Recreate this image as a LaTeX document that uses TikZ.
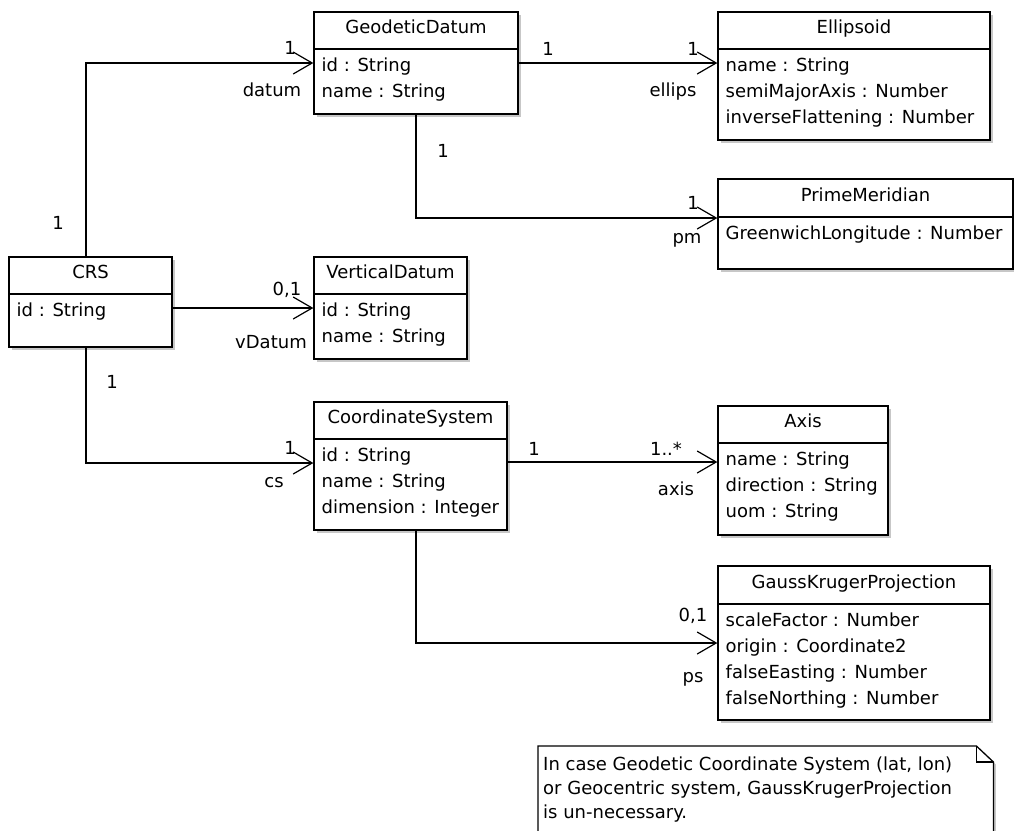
\documentclass[tikz,border=0pt]{standalone}
\usepackage{fontspec}
\setmainfont{DejaVu Sans}
\usetikzlibrary{arrows.meta,shadows}

\tikzset{
  txt/.style={font=\fontsize{18}{22}\selectfont, inner sep=0pt, text=black},
  lbl/.style={txt, anchor=base},
  boxshadow/.style={general shadow={shadow xshift=2.5pt, shadow yshift=-2.5pt, fill=black, opacity=0.22}},
  classbox/.style={draw=black, line width=1.3pt, fill=white, rectangle, inner sep=0pt, boxshadow},
  boxline/.style={draw=black, line width=1.3pt},
  assoc/.style={draw=black, line width=1.2pt, -{Straight Barb[length=19pt,width=22pt]}},
}

% class box: name, x1, y1, x2, y2, divider y, title, attributes
\newcommand\umlclass[8]{%
  \node[classbox, minimum width={(#4-#2)*1pt}, minimum height={(#5-#3)*1pt}]
    (#1) at ({(#2+#4)/2},{(#3+#5)/2}) {};
  \draw[boxline] (#1.west |- 0,#6) -- (#1.east |- 0,#6);
  \node[txt, anchor=base] (#1-name) at ({(#2+#4)/2},#6-16) {#7};
  \foreach \attr [count=\k] in {#8}
    \node[txt, anchor=base west] (#1-attr\k) at (#2+7.5,{#6+22+26*(\k-1)}) {\attr};
}

\begin{document}
\begin{tikzpicture}[x=1pt, y=-1pt]
\useasboundingbox (0,0) rectangle (1014,830);
\clip (0,0) rectangle (1014,830);
\fill[white] (0,0) rectangle (1014,830);

% classes
\umlclass{crs}{9}{257}{172}{347}{294}{CRS}{id : String}
\umlclass{gd}{314}{12}{518}{114}{49}{GeodeticDatum}{id : String, name : String}
\umlclass{vd}{314}{257}{467}{359}{294}{VerticalDatum}{id : String, name : String}
\umlclass{ell}{718}{12}{990}{140}{49}{Ellipsoid}{name : String, semiMajorAxis : Number, inverseFlattening : Number}
\umlclass{pm}{718}{179}{1013}{269}{217}{PrimeMeridian}{GreenwichLongitude : Number}
\umlclass{cs}{314}{402}{507}{530}{439}{CoordinateSystem}{id : String, name : String, dimension : Integer}
\umlclass{ax}{718}{406}{888}{535}{443}{Axis}{name : String, direction : String, uom : String}
\umlclass{gk}{718}{566}{990}{720}{604}{GaussKrugerProjection}{scaleFactor : Number, origin : Coordinate2, falseEasting : Number, falseNorthing : Number}

% associations
\draw[assoc] ([xshift=-4.5pt]crs.north) |- (gd.west);
\draw[assoc] (crs.east |- vd.west) -- (vd.west);
\draw[assoc] ([xshift=-4.5pt]crs.south) |- ([yshift=3pt]cs.west);
\draw[assoc] (gd.east) -- (gd.east -| ell.west);
\draw[assoc] (gd.south) |- ([yshift=6pt]pm.west);
\draw[assoc] ([yshift=4pt]cs.east) -- ([yshift=4pt]cs.east -| ax.west);
\draw[assoc] ([xshift=5.5pt]cs.south) |- (gk.west);

% multiplicities and role names
\node[lbl] (m-crs-gd) at (58,229.5) {1};
\node[lbl] (m-gd) at (290,54.5) {1};
\node[lbl] (r-datum) at (272,96) {datum};
\node[lbl] (m-vd) at (287,295) {0,1};
\node[lbl] (r-vdatum) at (271,348) {vDatum};
\node[lbl] (m-crs-cs) at (112,388) {1};
\node[lbl] (m-cs) at (290,454) {1};
\node[lbl] (r-cs) at (274,487) {cs};
\node[lbl] (m-gd-ell) at (548,55) {1};
\node[lbl] (m-ell) at (693,55) {1};
\node[lbl] (r-ellips) at (673,96) {ellips};
\node[lbl] (m-gd-pm) at (443,157) {1};
\node[lbl] (m-pm) at (693,209) {1};
\node[lbl] (r-pm) at (687,243) {pm};
\node[lbl] (m-cs-ax) at (534,455) {1};
\node[lbl] (m-ax) at (666,455) {1..*};
\node[lbl] (r-axis) at (676,495) {axis};
\node[lbl] (m-gk) at (693,621) {0,1};
\node[lbl] (r-ps) at (693,682) {ps};

% note with folded corner
\node[inner sep=0pt, minimum width=455pt, minimum height=110pt, anchor=north west] (note) at (538,746) {};
\draw[line width=1.3pt, fill=white, boxshadow]
  (note.north west) -- ([xshift=-17pt]note.north east) -- ([yshift=-16pt]note.north east)
  -- (note.south east) -- (note.south west) -- cycle;
\draw[line width=1.1pt] ([xshift=-17pt]note.north east) |- ([yshift=-16pt]note.north east);
\node[txt, anchor=base west] (note-l1) at (543,770) {In case Geodetic Coordinate System (lat, lon)};
\node[txt, anchor=base west] (note-l2) at (543,794) {or Geocentric system, GaussKrugerProjection};
\node[txt, anchor=base west] (note-l3) at (543,818) {is un-necessary.};
\end{tikzpicture}
\end{document}
